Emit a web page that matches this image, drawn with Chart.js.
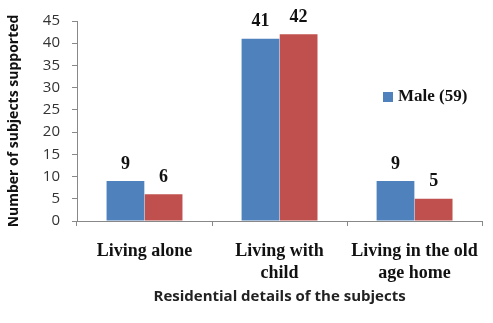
<!DOCTYPE html>
<html>
<head>
<meta charset="utf-8">
<script src="https://cdn.jsdelivr.net/npm/chart.js@4.4.1/dist/chart.umd.min.js"></script>
<style>
  html, body { margin: 0; padding: 0; background: #fff; }
</style>
</head>
<body>
<canvas id="residenceChart" width="493" height="323"></canvas>
<script>
  // Data
  const categories = [['Living alone'], ['Living with', 'child'], ['Living in the old', 'age home']];
  const seriesNames = ['Male (59)', 'Female (53)'];
  const maleValues = [9, 41, 9];
  const femaleValues = [6, 42, 5];
  const yTicks = [0, 5, 10, 15, 20, 25, 30, 35, 40, 45];

  // Numbers above each bar
  const valueLabels = {
    id: 'valueLabels',
    afterDatasetsDraw(chart) {
      const ctx = chart.ctx;
      ctx.save();
      ctx.font = 'bold 18px "Liberation Serif"';
      ctx.fillStyle = '#111';
      ctx.textAlign = 'center';
      ctx.textBaseline = 'bottom';
      chart.data.datasets.forEach((ds, i) => {
        chart.getDatasetMeta(i).data.forEach((bar, j) => {
          ctx.fillText(ds.data[j], bar.x, bar.y - 8);
        });
      });
      ctx.restore();
    }
  };

  // Only the first series shows in the legend of the original
  const sideLegend = {
    id: 'sideLegend',
    afterDraw(chart) {
      const ctx = chart.ctx;
      const ds = chart.data.datasets[0];
      ctx.save();
      ctx.fillStyle = ds.backgroundColor;
      ctx.fillRect(383, 92, 10, 10);
      ctx.font = 'bold 17px "Liberation Serif"';
      ctx.fillStyle = '#111';
      ctx.textBaseline = 'middle';
      ctx.fillText(ds.label, 398, 97);
      ctx.restore();
    }
  };

  const config = {
    type: 'bar',
    data: {
      labels: categories,
      datasets: [
        { label: seriesNames[0], data: maleValues, backgroundColor: '#4F81BD' },
        { label: seriesNames[1], data: femaleValues, backgroundColor: '#C0504D' }
      ]
    },
    options: {
      responsive: false,
      animation: false,
      layout: { padding: { top: 19, right: 1, left: 2, bottom: 12 } },
      datasets: {
        bar: { barPercentage: 0.99, categoryPercentage: 0.565 }
      },
      plugins: {
        legend: { display: false },
        tooltip: { enabled: false }
      },
      scales: {
        x: {
          afterFit: (scale) => { scale.height = 90; },
          grid: { display: true, drawOnChartArea: false, drawTicks: true, tickLength: 5, color: '#888' },
          border: { color: '#888' },
          ticks: {
            color: '#111',
            font: { family: 'Liberation Serif', weight: 'bold', size: 18 },
            padding: 15,
            maxRotation: 0
          },
          title: {
            display: true,
            text: 'Residential details of the subjects',
            color: '#222',
            font: { family: 'Open Sans', weight: 'bold', size: 15 },
            padding: { top: 0, bottom: 5 }
          }
        },
        y: {
          min: 0,
          max: 45,
          afterBuildTicks: (scale) => { scale.ticks = yTicks.map(v => ({ value: v })); },
          afterFit: (scale) => { scale.width = 75; },
          grid: { display: true, drawOnChartArea: false, drawTicks: true, tickLength: 5, color: '#888' },
          border: { color: '#888' },
          ticks: {
            color: '#333',
            font: { family: 'Open Sans', size: 15 },
            padding: 12
          },
          title: {
            display: true,
            text: 'Number of subjects supported',
            color: '#111',
            font: { family: 'Open Sans', weight: 'bold', size: 14 },
            padding: { top: 4, bottom: 4 }
          }
        }
      }
    },
    plugins: [valueLabels, sideLegend]
  };

  const ctx = document.getElementById('residenceChart').getContext('2d');
  new Chart(ctx, config);
</script>
</body>
</html>
